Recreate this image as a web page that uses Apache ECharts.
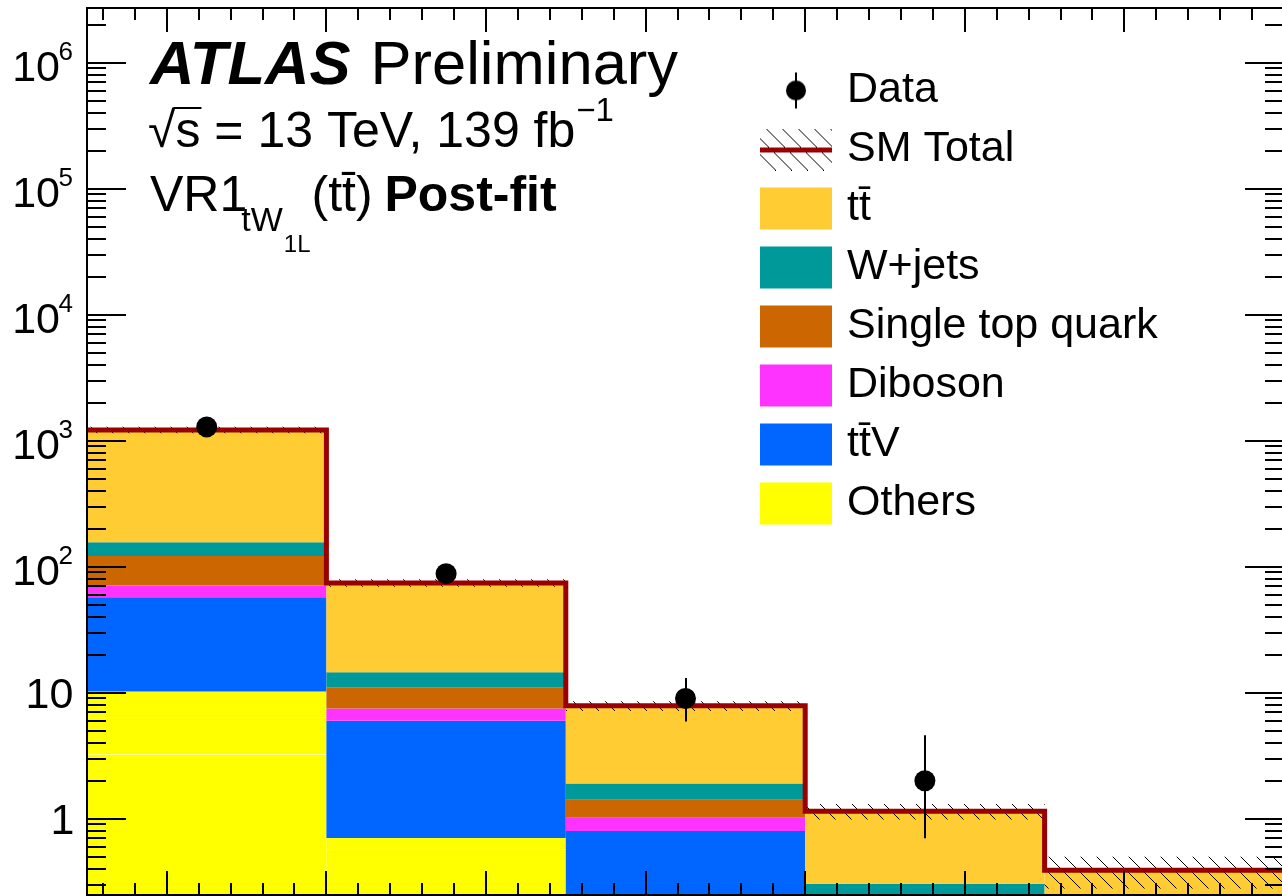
<!DOCTYPE html>
<html><head><meta charset="utf-8">
<script src="https://cdn.jsdelivr.net/npm/echarts@6/dist/echarts.min.js"></script>
<style>html,body{margin:0;padding:0;background:#fff}#c{width:1282px;height:896px}</style>
</head><body><div id="c"></div>
<script>
const FONT = '"Liberation Sans", Arial, Helvetica, sans-serif';

// ---- data ----
const binEdges   = [0.5, 2, 3.5, 5, 6.5, 8];
const othersA    = [3.24, 0.2,   0.03, 0.01, 0.003];
const othersB    = [3.16, 0.347, 0.03, 0.01, 0.003];
const othersC    = [3.8,  0.13,  0.03, 0.02, 0.004];
const ttV        = [47.0, 5.28, 0.684, 0.10, 0.03];
const diboson    = [13.5, 1.50, 0.216, 0.02, 0.01];
const singleTop  = [50.9, 3.58, 0.40,  0.06, 0.04];
const wjets      = [34.8, 3.46, 0.49,  0.06, 0.03];
const ttbar      = [1060, 59.8, 5.96,  0.84, 0.244];
const totalErr   = [73,   5.2,  0.7,   0.16, 0.11];
const dataObs    = [1285, 88,   9,     2,    null];
const dataErrLo  = [35.3, 9.3,  3.1,   1.3,  null];
const dataErrHi  = [36.3, 10.4, 4.1,   2.6,  null];
const yLabelValues = [1, 10, 100, 1000, 10000, 100000, 1000000];
const xMajorTicks  = [1, 2, 3, 4, 5, 6, 7];
const legendNames  = ['Data', 'SM Total', 'tt\u0304', 'W+jets', 'Single top quark', 'Diboson', 'tt\u0304V', 'Others'];

// ---- derived ----
const yMin = Math.pow(10, -0.606), yMax = Math.pow(10, 6.434);
const xMin = binEdges[0], xMax = binEdges[binEdges.length - 1];
const nb = binEdges.length - 1;
const centers = binEdges.slice(0, nb).map((e, i) => (e + binEdges[i + 1]) / 2);

const layers = [
  { name: 'Others', color: '#FFFF00', parts: [othersA, othersB, othersC] },
  { name: 'tt\u0304V', color: '#0066FF', parts: [ttV] },
  { name: 'Diboson', color: '#FF33FF', parts: [diboson] },
  { name: 'Single top quark', color: '#CC6600', parts: [singleTop] },
  { name: 'W+jets', color: '#009999', parts: [wjets] },
  { name: 'tt\u0304', color: '#FFCC33', parts: [ttbar] }
];
let base = new Array(nb).fill(yMin / 10);
layers.forEach(L => {
  L.lower = base.slice();
  L.subs = [];
  let run = base.slice();
  L.parts.forEach((p, k) => {
    run = run.map((v, i) => v + p[i]);
    if (k < L.parts.length - 1) L.subs.push(run.slice());
  });
  L.upper = run.slice();
  base = run.slice();
});
const total = base.slice();

const mctx = document.createElement('canvas').getContext('2d');
function measure(text, font) { mctx.font = font; return mctx.measureText(text); }
function tw(text, font) { return measure(text, font).width; }

function hatchCanvas(w, h, sp) {
  const c = document.createElement('canvas'); c.width = w; c.height = h;
  const g = c.getContext('2d');
  g.strokeStyle = '#000'; g.lineWidth = 1;
  g.beginPath();
  for (let x0 = -h - sp; x0 < w + h; x0 += sp) { g.moveTo(x0, 0); g.lineTo(x0 + h, h); }
  g.stroke();
  return c;
}
const hatchTile = hatchCanvas(16, 16, 16);

function smIcon() {
  const c = hatchCanvas(72, 42, 16);
  const g = c.getContext('2d');
  g.fillStyle = '#990000'; g.fillRect(0, 19, 72, 5);
  return c.toDataURL();
}
function dataIcon() {
  const c = document.createElement('canvas'); c.width = 72; c.height = 42;
  const g = c.getContext('2d');
  g.fillStyle = '#000'; g.fillRect(35, 3, 2, 36);
  g.beginPath(); g.arc(36, 21, 10, 0, Math.PI * 2); g.fill();
  return c.toDataURL();
}

function rectBetween(api, x0, x1, lo, hi) {
  const p1 = api.coord([x0, hi]), p2 = api.coord([x1, lo]);
  return { x: p1[0], y: p1[1], width: p2[0] - p1[0], height: p2[1] - p1[1] };
}

const series = [];
layers.forEach(L => {
  series.push({
    type: 'custom', name: L.name, z: 1, itemStyle: { color: L.color }, silent: true,
    encode: { x: [0, 1], y: [2, 3] },
    data: binEdges.slice(0, nb).map((e, i) => [e, binEdges[i + 1], L.lower[i], L.upper[i]]),
    renderItem: (params, api) => {
      const i = params.dataIndex;
      const lo = Math.max(api.value(2), yMin), hi = api.value(3);
      if (hi <= yMin) return { type: 'group', children: [] };
      const r = rectBetween(api, api.value(0), api.value(1), lo, hi);
      const ch = [{ type: 'rect', shape: r, style: { fill: L.color } }];
      L.subs.forEach(s => {
        const v = s[i];
        if (v > yMin && v < hi) {
          const py = Math.round(api.coord([api.value(0), v])[1]) + 0.5;
          ch.push({ type: 'line', shape: { x1: r.x, y1: py, x2: r.x + r.width, y2: py }, style: { stroke: 'rgba(255,255,255,0.55)', lineWidth: 1 } });
        }
      });
      return { type: 'group', children: ch };
    }
  });
});

// uncertainty band (hatched)
series.push({
  type: 'custom', name: 'SM Total', z: 2, silent: true, itemStyle: { color: '#990000' },
  encode: { x: [0, 1], y: [2, 3] },
  data: binEdges.slice(0, nb).map((e, i) => [e, binEdges[i + 1], total[i] - totalErr[i], total[i] + totalErr[i]]),
  renderItem: (params, api) => {
    const lo = Math.max(api.value(2), yMin), hi = api.value(3);
    return { type: 'rect', shape: rectBetween(api, api.value(0), api.value(1), lo, hi),
      style: { fill: { image: hatchTile, repeat: 'repeat' } } };
  }
});

// SM total line
series.push({
  type: 'line', name: 'SM Total', z: 3, step: 'end', symbol: 'none', silent: true, clip: false,
  data: binEdges.map((e, i) => [e, total[Math.min(i, nb - 1)]]),
  lineStyle: { color: '#990000', width: 5, join: 'miter', opacity: 1 }, itemStyle: { color: '#990000' }
});

// data error bars
series.push({
  type: 'custom', name: 'Data', z: 4, silent: true, itemStyle: { color: '#000' },
  encode: { x: 0, y: [1, 2, 3] },
  data: centers.map((c, i) => dataObs[i] == null ? null : [c, dataObs[i], dataObs[i] - dataErrLo[i], dataObs[i] + dataErrHi[i]]).filter(d => d),
  renderItem: (params, api) => {
    const a = api.coord([api.value(0), Math.max(api.value(2), yMin)]);
    const b = api.coord([api.value(0), api.value(3)]);
    const x = Math.round(a[0]);
    return { type: 'line', shape: { x1: x, y1: a[1], x2: x, y2: b[1] }, style: { stroke: '#000', lineWidth: 2 } };
  }
});
// data points
series.push({
  type: 'scatter', name: 'Data', z: 5, silent: true, symbol: 'circle', symbolSize: 21,
  itemStyle: { color: '#000', opacity: 1 },
  data: centers.map((c, i) => dataObs[i] == null ? null : [c, dataObs[i]]).filter(d => d)
});

// axes: frame, ticks, labels
const labFont = `43px ${FONT}`, supFont = `26px ${FONT}`;
series.push({
  type: 'custom', name: 'axes', z: 10, silent: true,
  encode: { x: 0, y: 1 },
  data: [[xMin, 1]],
  renderItem: (params, api) => {
    const tl = api.coord([xMin, yMax]), br = api.coord([xMax, yMin]);
    const L = Math.round(tl[0]), T = Math.round(tl[1]), R = Math.round(br[0]), B = Math.round(br[1]);
    const ch = [];
    const ln = (x1, y1, x2, y2) => ch.push({ type: 'line', shape: { x1, y1, x2, y2 }, style: { stroke: '#000', lineWidth: 2 } });
    const xMinor = [];
    for (let v = Math.ceil(xMin * 5) / 5; v < xMax - 1e-9; v = Math.round((v + 0.2) * 10) / 10) {
      if (Math.abs(v - Math.round(v)) > 1e-6) xMinor.push(v);
    }
    xMajorTicks.forEach(v => { const x = Math.round(api.coord([v, yMin])[0]); ln(x, B, x, B - 24); ln(x, T, x, T + 24); });
    xMinor.forEach(v => { const x = Math.round(api.coord([v, yMin])[0]); ln(x, B, x, B - 12); ln(x, T, x, T + 12); });
    for (let k = -1; k <= 6; k++) {
      for (let m = 1; m <= 9; m++) {
        const v = m * Math.pow(10, k);
        if (v < yMin || v > yMax) continue;
        const y = Math.round(api.coord([xMin, v])[1]);
        const len = m === 1 ? 39 : 19;
        ln(L, y, L + len, y); ln(R, y, R - len, y);
      }
    }
    ch.push({ type: 'rect', shape: { x: L, y: T, width: R - L, height: B - T }, style: { fill: null, stroke: '#000', lineWidth: 2 } });
    const inkRight = L - 14.5;
    yLabelValues.forEach(v => {
      const y = api.coord([xMin, v])[1];
      const n = Math.round(Math.log10(v));
      if (n <= 1) {
        const t = String(v);
        const m = measure(t, labFont);
        ch.push({ type: 'text', x: inkRight - m.actualBoundingBoxRight, y: y + 3.5,
          style: { text: t, font: labFont, fill: '#000', textAlign: 'left', align: 'left', textVerticalAlign: 'middle', verticalAlign: 'middle' } });
      } else {
        const s = String(n);
        const ms = measure(s, supFont);
        const sx = inkRight - ms.actualBoundingBoxRight;
        const bx = sx + 1.5 - tw('10', labFont);
        ch.push({ type: 'text', x: bx, y: y + 6,
          style: { text: '10', font: labFont, fill: '#000', textAlign: 'left', align: 'left', textVerticalAlign: 'middle', verticalAlign: 'middle' } });
        ch.push({ type: 'text', x: sx, y: y - 10,
          style: { text: s, font: supFont, fill: '#000', textAlign: 'left', align: 'left', textVerticalAlign: 'middle', verticalAlign: 'middle' } });
      }
    });
    return { type: 'group', children: ch };
  }
});

// ---- title block ----
function txt(text, x, y, font) {
  return { type: 'text', x, y, silent: true, style: { text, font, fill: '#000', textAlign: 'left', align: 'left', textVerticalAlign: 'middle', verticalAlign: 'middle' } };
}
const graphics = [];
{
  const fA = `61.5px ${FONT}`, fAb = `italic bold 61.5px ${FONT}`;
  let x = 150;
  graphics.push(txt('ATLAS', x, 67, fAb));
  x += tw('ATLAS', fAb) + tw(' ', fA) + 3;
  graphics.push(txt('Preliminary', x, 67, fA));

  const fB = `50px ${FONT}`, fBb = `bold 50px ${FONT}`, fSup = `33px ${FONT}`;
  const l2 = '\u221As = 13 TeV, 139 fb';
  x = 148;
  graphics.push(txt(l2, x, 133, fB));
  const sq = tw('\u221A', fB), sw = tw('s', fB);
  graphics.push({ type: 'line', silent: true, shape: { x1: x + sq - 2, y1: 108, x2: x + sq + sw + 1, y2: 108 }, style: { stroke: '#000', lineWidth: 2 } });
  graphics.push(txt('\u22121', x + tw(l2, fB) + 1, 112, fSup));

  const fSub = `34px ${FONT}`, fSub2 = `24px ${FONT}`;
  x = 150;
  graphics.push(txt('VR1', x, 197, fB));
  x += tw('VR1', fB) - 6;
  graphics.push(txt('tW', x, 222, fSub));
  x += tw('tW', fSub) + 1;
  graphics.push(txt('1L', x, 245, fSub2));
  x += tw('1L', fSub2) + 1;
  graphics.push(txt('(tt\u0304)', x, 197, fB));
  x += tw('(tt\u0304)', fB) + tw(' ', fB) - 2;
  graphics.push(txt('Post-fit', x, 197, fBb));
}

const chart = echarts.init(document.getElementById('c'), null, { renderer: 'canvas' });
chart.setOption({
  animation: false,
  backgroundColor: '#fff',
  grid: { left: 87, right: -2, top: 8, bottom: 1, containLabel: false, outerBoundsMode: 'none' },
  xAxis: { type: 'value', min: xMin, max: xMax, axisLine: { show: false }, axisTick: { show: false }, axisLabel: { show: false }, splitLine: { show: false } },
  yAxis: { type: 'log', logBase: 10, min: yMin, max: yMax, axisLine: { show: false }, axisTick: { show: false }, axisLabel: { show: false }, splitLine: { show: false }, minorTick: { show: false } },
  legend: {
    orient: 'vertical', left: 760, top: 69, itemWidth: 72, itemHeight: 42, itemGap: 16, padding: 0,
    selectedMode: false, inactiveColor: '#000',
    textStyle: { fontSize: 43, fontFamily: FONT, color: '#000', lineHeight: 42, padding: [0, 0, 0, 10] },
    data: legendNames.map(n => {
      if (n === 'Data') return { name: n, icon: 'image://' + dataIcon() };
      if (n === 'SM Total') return { name: n, icon: 'image://' + smIcon() };
      const L = layers.find(l => l.name === n);
      return { name: n, icon: 'rect', itemStyle: { color: L.color, borderWidth: 0 } };
    })
  },
  graphic: graphics,
  series
});
</script></body></html>
